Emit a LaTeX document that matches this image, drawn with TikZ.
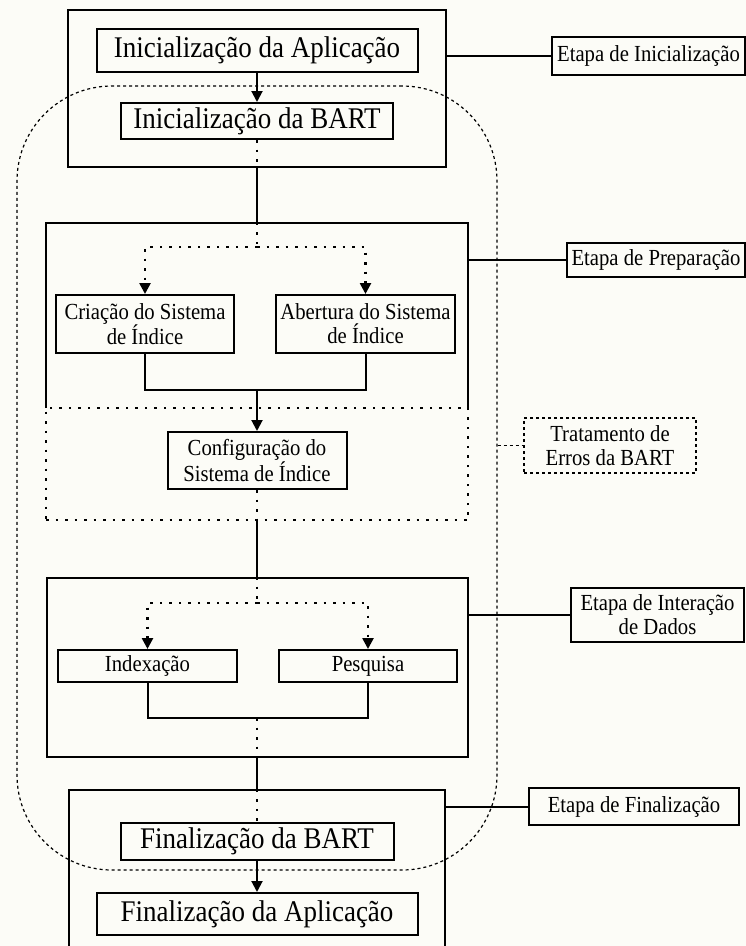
\documentclass[tikz,border=0pt]{standalone}
\usepackage{fontspec}
\setmainfont{Liberation Serif}[FakeStretch=0.9]
\usetikzlibrary{arrows.meta}
\definecolor{paper}{RGB}{252,252,247}

\begin{document}
\begin{tikzpicture}[x=1pt,y=-1pt,
    flowbox/.style={draw,line width=2pt,inner sep=0pt,align=center},
    bigbox/.style={flowbox,font=\fontsize{30}{32}\selectfont},
    smallbox/.style={flowbox,font=\fontsize{23}{24}\selectfont},
    stagebox/.style={inner sep=0pt},
    solidline/.style={line width=2pt},
    dotline/.style={line width=2.5pt,dash pattern=on 2.5pt off 7pt},
    fineline/.style={line width=1.2pt,dash pattern=on 3pt off 3pt},
    arrowtip/.style={-{Triangle[length=11pt,width=11pt]}}]
      \useasboundingbox (0,0) rectangle (746,946) ;
      \fill[paper] (0,0) rectangle (746,946) ;
      % area of the BART
      \node[draw,fineline,rounded corners=95pt,minimum width=480pt,minimum height=784pt] (bartArea) at (257,478) {} ;
      % initialization
      \node[flowbox,minimum width=378pt,minimum height=157pt] (stageInic) at (257,88.5) {} ;
      \node[bigbox,minimum width=321pt,minimum height=43pt] (inicApp) at (257,50.5) {Inicialização da Aplicação} ;
      \node[bigbox,minimum width=272pt,minimum height=36pt] (inicBART) at (257,121) {Inicialização da BART} ;
      \node[smallbox,minimum width=193pt,minimum height=38pt] (etInic) at (648.5,56) {Etapa de Inicialização} ;
      % preparation
      \node[stagebox,minimum width=422pt,minimum height=185pt] (stagePrep) at (257,315.5) {} ;
      \node[draw,dotline,minimum width=422pt,minimum height=112pt] (errArea) at (257,464) {} ;
      \node[smallbox,minimum width=178pt,minimum height=58pt] (criacao) at (145,324) {Criação do Sistema\\de Índice} ;
      \node[smallbox,minimum width=179pt,minimum height=58pt] (abertura) at (365.5,324) {Abertura do Sistema\\de Índice} ;
      \node[smallbox,minimum width=179pt,minimum height=57pt] (config) at (257,460.5) {Configuração do\\Sistema de Índice} ;
      \node[smallbox,minimum width=178pt,minimum height=34pt] (etPrep) at (656,260) {Etapa de Preparação} ;
      \node[smallbox,fineline,minimum width=172pt,minimum height=55pt] (tratamento) at (610,445.5) {Tratamento de\\Erros da BART} ;
      % data interaction
      \node[flowbox,minimum width=421pt,minimum height=179pt] (stageInter) at (257,667.5) {} ;
      \node[smallbox,minimum width=179pt,minimum height=32pt] (indexacao) at (147.5,666) {Indexação} ;
      \node[smallbox,minimum width=178pt,minimum height=32pt] (pesquisa) at (368,666) {Pesquisa} ;
      \node[smallbox,minimum width=173pt,minimum height=54pt] (etInter) at (657.5,615) {Etapa de Interação\\de Dados} ;
      % finalization
      \node[stagebox,minimum width=376pt,minimum height=156pt] (stageFin) at (257,868) {} ;
      \node[bigbox,minimum width=273pt,minimum height=37pt] (finBART) at (257,841.5) {Finalização da BART} ;
      \node[bigbox,minimum width=321pt,minimum height=42pt] (finApp) at (257,914) {Finalização da Aplicação} ;
      \node[smallbox,minimum width=210pt,minimum height=37pt] (etFin) at (634,806.5) {Etapa de Finalização} ;
      \coordinate (prepSplit) at (257,247) ;
      \coordinate (prepJoin) at (257,390) ;
      \coordinate (interSplit) at (257,603) ;
      \coordinate (interJoin) at (257,718) ;
      % open stage boxes
      \draw[solidline] (stagePrep.south west) |- (stagePrep.north east)--(stagePrep.south east) ;
      \draw[solidline] (stageFin.south west) |- (stageFin.north east)--(stageFin.south east) ;
      % main flow
      \draw[solidline,arrowtip] (inicApp)--(inicBART) ;
      \draw[dotline] (inicBART.south)--(stageInic.south) ;
      \draw[solidline] (stageInic.south)--(stagePrep.north) ;
      \draw[dotline] (stagePrep.north)--(prepSplit) ;
      \draw[dotline,arrowtip] (prepSplit) -| (criacao.north) ;
      \draw[dotline,arrowtip] (prepSplit) -| (abertura.north) ;
      \draw[solidline] (criacao.south) |- (prepJoin) -| (abertura.south) ;
      \draw[solidline,arrowtip] (prepJoin)--(config.north) ;
      \draw[dotline] (config.south)--(errArea.south) ;
      \draw[solidline] (errArea.south)--(stageInter.north) ;
      \draw[dotline] (stageInter.north)--(interSplit) ;
      \draw[dotline,arrowtip] (interSplit) -| (indexacao.north) ;
      \draw[dotline,arrowtip] (interSplit) -| (pesquisa.north) ;
      \draw[solidline] (indexacao.south) |- (interJoin) -| (pesquisa.south) ;
      \draw[dotline] (interJoin)--(stageInter.south) ;
      \draw[solidline] (stageInter.south)--(stageFin.north) ;
      \draw[dotline] (stageFin.north)--(finBART.north) ;
      \draw[solidline,arrowtip] (finBART)--(finApp) ;
      % stage labels
      \draw[solidline] (stageInic.east |- etInic.west)--(etInic.west) ;
      \draw[solidline] (stagePrep.east |- etPrep.west)--(etPrep.west) ;
      \draw[fineline] (bartArea.east |- tratamento.west)--(tratamento.west) ;
      \draw[solidline] (stageInter.east |- etInter.west)--(etInter.west) ;
      \draw[solidline] (stageFin.east |- etFin.west)--(etFin.west) ;
    \end{tikzpicture}
\end{document}
